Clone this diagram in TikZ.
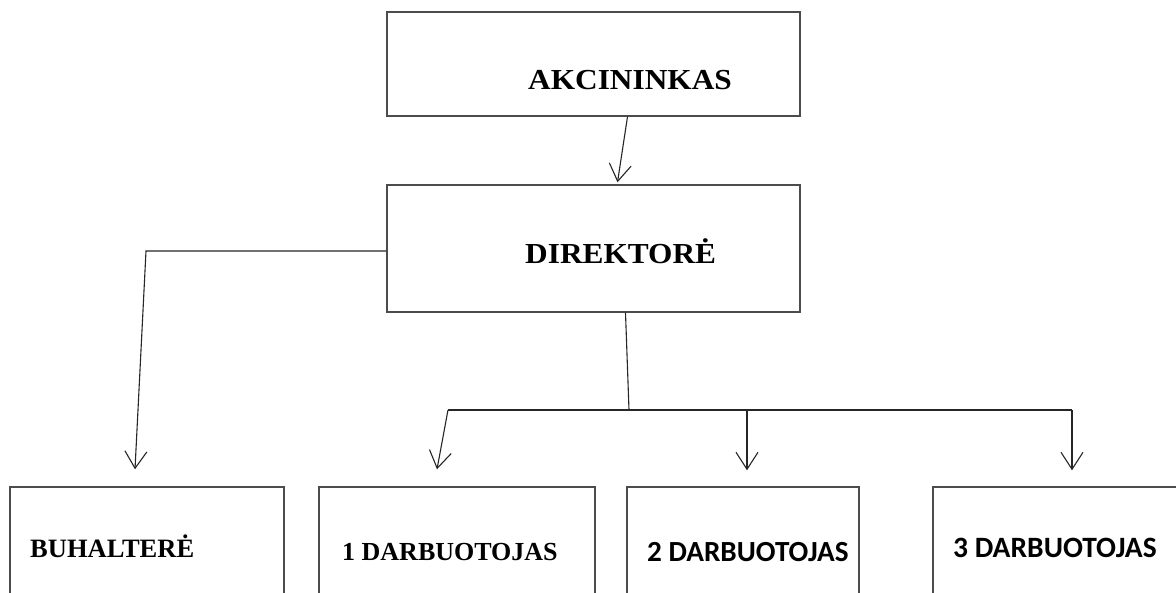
\documentclass[tikz,border=0pt]{standalone}
\usepackage{fontspec}
\setmainfont{Liberation Serif}
\newfontfamily\calfont{Carlito}
\usetikzlibrary{arrows.meta}

\tikzset{
    box/.style={draw=black!70, line width=1.4pt, inner sep=0pt},
    line/.style={draw=black!85, line width=1.1pt},
    arr/.style={line, -{Straight Barb[length=17pt,width=22pt,line width=1.1pt]}},
    lbl/.style={anchor=base west, inner sep=0pt, font=\bfseries}
}

\begin{document}
\begin{tikzpicture}[x=1pt, y=-1pt]
    \clip (0,0) rectangle (1176,593);
    \fill [white] (0,0) rectangle (1176,593);
    % boxes
    \node [box, minimum width=413, minimum height=104] (akc) at (593.5,64) {};
    \node [box, minimum width=413, minimum height=127] (dir) at (593.5,248.5) {};
    \node [box, minimum width=274, minimum height=170] (buh) at (147,572) {};
    \node [box, minimum width=276, minimum height=170] (d1) at (457,572) {};
    \node [box, minimum width=232, minimum height=170] (d2) at (743,572) {};
    \node [box, minimum width=300, minimum height=170] (d3) at (1083,572) {};
    % texts
    \node [lbl, xscale=1.08, font=\bfseries\fontsize{29}{34}\selectfont] (akclbl) at (528,90) {AKCININKAS};
    \node [lbl, xscale=1.08, font=\bfseries\fontsize{29}{34}\selectfont] (dirlbl) at (525,264) {DIREKTORĖ};
    \node [lbl, font=\bfseries\fontsize{26.5}{32}\selectfont] (buhlbl) at (30,557) {BUHALTERĖ};
    \node [lbl, font=\bfseries\fontsize{26}{30}\selectfont] (d1lbl) at (342,560) {1 DARBUOTOJAS};
    \node [lbl, font=\calfont\bfseries\fontsize{29.2}{33}\selectfont] (d2lbl) at (647,561) {2 DARBUOTOJAS};
    \node [lbl, font=\calfont\bfseries\fontsize{29.5}{34}\selectfont] (d3lbl) at (953,557) {3 DARBUOTOJAS};
    % connectors
    \coordinate (bl) at (146,251);
    \coordinate (jn) at (629,410);
    \coordinate (jl) at (448,410);
    \coordinate (jm) at (747,410);
    \coordinate (jr) at (1072,410);
    \draw [arr] ([xshift=34pt]akc.south) -- ([xshift=24pt,yshift=2pt]dir.north);
    \draw [arr] ([yshift=-2.5pt]dir.west) -- (bl) -- ([xshift=-12pt,yshift=17pt]buh.north);
    \draw [line] ([xshift=32pt]dir.south) -- (jn);
    \draw [line] (jl) -- (jr);
    \draw [arr] (jl) -- ([xshift=-20pt,yshift=17pt]d1.north);
    \draw [arr] (jm) -- ([xshift=4pt,yshift=16pt]d2.north);
    \draw [arr] (jr) -- ([xshift=-11pt,yshift=16pt]d3.north);
\end{tikzpicture}
\end{document}
